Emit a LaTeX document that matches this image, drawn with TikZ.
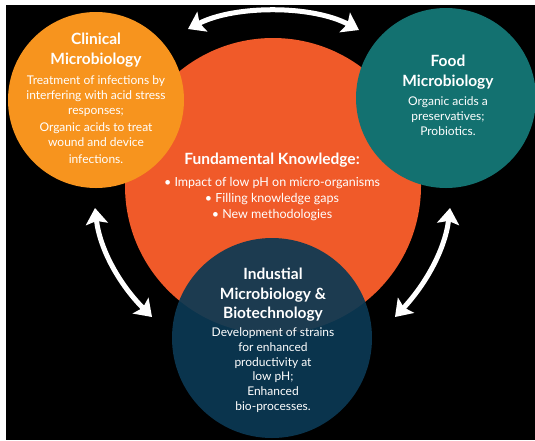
\documentclass[tikz,border=0pt]{standalone}
\usepackage{fontspec}
\setmainfont{Lato}
\usepackage{tikz}
\usetikzlibrary{arrows.meta}

\definecolor{clinorange}{RGB}{247,148,30}
\definecolor{fundorange}{RGB}{240,90,41}
\definecolor{foodteal}{RGB}{19,113,112}
\definecolor{indnavy}{RGB}{11,57,84}

\begin{document}
\begin{tikzpicture}[x=1pt,y=1pt,yscale=-1,
    circ/.style={circle,inner sep=0pt,minimum size=#1},
    hd/.style={text=white,align=center,font=\fontsize{15.5}{19.5}\selectfont\bfseries},
    txt/.style={text=white,align=center,font=\fontsize{12}{15}\selectfont},
    wharrow/.style={draw=white,line width=5pt,{Stealth[length=16pt,width=22pt,inset=3pt]}-{Stealth[length=16pt,width=22pt,inset=3pt]}}]
    \useasboundingbox (0,0) rectangle (535,440); %picture frame 535 x 440
    \fill[black] (6,5) rectangle (535,440);

    %Shape: Circle
    \node [circ=296pt,fill=fundorange] (fund) at (273,186) {};
    %Shape: Circle
    \node [circ=176pt,fill=clinorange] (clin) at (96,100) {};
    %Shape: Circle
    \node [circ=180pt,fill=foodteal] (food) at (446,98) {};
    %Shape: Circle
    \node [circ=200pt,fill=indnavy,fill opacity=0.92] (indu) at (272,338) {};

    % Text Node
    \node [hd] (clinhd) at (96,50) {Clinical\\Microbiology};
    % Text Node
    \node [txt] (clintxt) at (96,120) {Treatment of infections by\\interfering with acid stress\\responses;\\[2pt]Organic acids to treat\\wound and device\\[2pt]infections.};
    % Text Node
    \node [hd] (foodhd) at (448,72) {Food\\Microbiology};
    % Text Node
    \node [txt] (foodtxt) at (448,116) {Organic acids a\\preservatives;\\Probiotics.};
    % Text Node
    \node [hd] (fundhd) at (272,160) {Fundamental Knowledge:};
    % Text Node
    \node [txt,font=\fontsize{12.5}{16}\selectfont] (fundtxt) at (272,199) {• Impact of low pH on micro-organisms\\• Filling knowledge gaps\\• New methodologies};
    % Text Node
    \node [hd] (induhd) at (273,295) {Industial\\Microbiology \&\\Biotechnology};
    % Text Node
    \node [txt,font=\fontsize{12}{14.8}\selectfont] (indutxt) at (273,370) {Development of strains\\for enhanced\\productivity at\\low pH;\\Enhanced\\bio-processes.};

    %Curve Lines
    \coordinate (tl) at (188,29);
    \coordinate (tr) at (359,30);
    \draw [wharrow] (tl) .. controls (235,5) and (312,5) .. (tr);
    %Curve Lines
    \coordinate (ltop) at (95,208);
    \coordinate (lbot) at (152,317);
    \draw [wharrow] (ltop) .. controls (100,250) and (120,285) .. (lbot);
    %Curve Lines
    \coordinate (rtop) at (450,208);
    \coordinate (rbot) at (395,317);
    \draw [wharrow] (rtop) .. controls (445,250) and (425,285) .. (rbot);
\end{tikzpicture}
\end{document}
